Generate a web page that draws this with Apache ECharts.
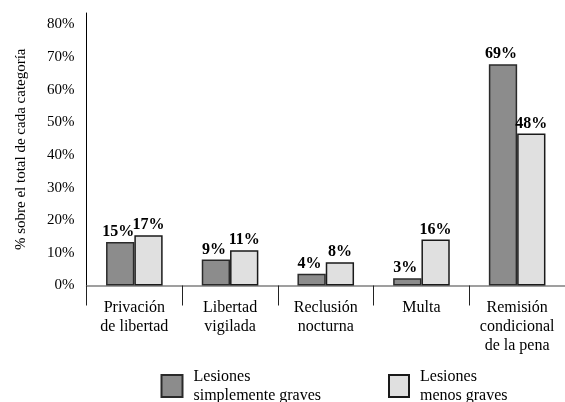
<!DOCTYPE html>
<html>
<head>
<meta charset="utf-8">
<script src="https://cdn.jsdelivr.net/npm/echarts@6/dist/echarts.min.js"></script>
<style>html,body{margin:0;padding:0;background:#fff;}#c{width:565px;height:402px;}</style>
</head>
<body>
<div id="c"></div>
<script>
const categories = ['Privación\nde libertad', 'Libertad\nvigilada', 'Reclusión\nnocturna', 'Multa', 'Remisión\ncondicional\nde la pena'];
const seriesNames = ['Lesiones\nsimplemente graves', 'Lesiones\nmenos graves'];
const valuesGraves = [13.3, 8.0, 3.6, 2.2, 67.8];
const valuesMenos = [15.4, 10.8, 7.1, 14.1, 46.6];
const labelsGraves = ['15%', '9%', '4%', '3%', '69%'];
const labelsMenos = ['17%', '11%', '8%', '16%', '48%'];
const yTicks = [0, 10, 20, 30, 40, 50, 60, 70, 80];
const yAxisTitle = '% sobre el total de cada categoría';

const FONT = 'Liberation Serif';
const chart = echarts.init(document.getElementById('c'), null, {renderer: 'canvas'});
function barLabel(labels, off) {
  return {
    show: true, position: 'top', distance: 2, offset: [off, 0],
    fontFamily: FONT, fontSize: 16, fontWeight: 'bold', color: '#000',
    formatter: p => labels[p.dataIndex]
  };
}
const legendText = {fontFamily: FONT, fontSize: 16, lineHeight: 19, color: '#000', padding: [0, 0, 0, 6]};
chart.setOption({
  animation: false,
  backgroundColor: '#fff',
  grid: {left: 86.5, top: 13, width: 480, bottom: 116.5, containLabel: false},
  legend: [
    {data: [{name: seriesNames[0], icon: 'rect'}], left: 160.5, top: 367, itemWidth: 21, itemHeight: 22, padding: 0, textStyle: legendText, selectedMode: false},
    {data: [{name: seriesNames[1], icon: 'rect'}], left: 388, top: 367, itemWidth: 20, itemHeight: 22, padding: 0, textStyle: legendText, selectedMode: false}
  ],
  xAxis: {
    type: 'category', data: categories,
    axisLine: {lineStyle: {color: '#808080', width: 1.5}},
    axisTick: {show: true, length: 20, lineStyle: {color: '#222', width: 1}},
    axisLabel: {fontFamily: FONT, fontSize: 16, lineHeight: 19, color: '#000', margin: 13, interval: 0}
  },
  yAxis: {
    type: 'value', min: 0, max: 83.5, interval: 10,
    name: yAxisTitle, nameLocation: 'middle', nameRotate: 90, nameGap: 58,
    nameTextStyle: {fontFamily: FONT, fontSize: 15, color: '#000'},
    axisLine: {show: true, lineStyle: {color: '#000', width: 1}},
    axisTick: {show: false},
    splitLine: {show: false},
    axisLabel: {fontFamily: FONT, fontSize: 15, color: '#000', margin: 12,
      formatter: v => yTicks.indexOf(Math.round(v)) >= 0 && Math.abs(v - Math.round(v)) < 1e-6 ? v + '%' : ''}
  },
  series: [
    {name: seriesNames[0], type: 'bar', data: valuesGraves, barWidth: 28.3, barGap: '0%',
     itemStyle: {color: '#8c8c8c', borderColor: '#2a2a2a', borderWidth: 1.5},
     label: barLabel(labelsGraves, -2)},
    {name: seriesNames[1], type: 'bar', data: valuesMenos, barWidth: 28.3, barGap: '0%',
     itemStyle: {color: '#e0e0e0', borderColor: '#1a1a1a', borderWidth: 1.5},
     label: barLabel(labelsMenos, 0)}
  ]
});
</script>
</body>
</html>
